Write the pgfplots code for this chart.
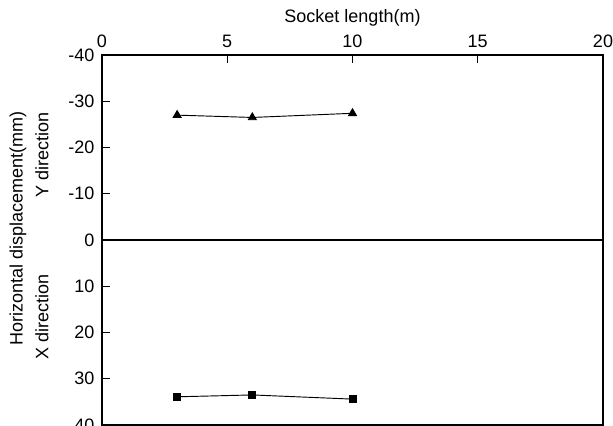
\documentclass[border=0pt]{standalone}
\usepackage{fontspec}
\setmainfont{Liberation Sans}
\usepackage{pgfplots}
\pgfplotsset{compat=1.18}
\begin{document}
\fontsize{13.5}{16}\selectfont
\begin{tikzpicture}
\begin{axis}[
  name=ax,
  scale only axis,
  width=375.75pt, height=277.5pt,
  xmin=0, xmax=20, ymin=-40, ymax=40,
  y dir=reverse,
  xtick={0,5,10,15,20},
  ytick={-40,-30,-20,-10,0,10,20,30,40},
  xtick pos=right, xticklabel pos=right,
  ytick pos=left,
  tick align=inside,
  major tick length=6pt,
  axis line style={line width=0.9pt},
  every tick/.style={line width=0.9pt, black},
  /pgf/number format/assume math mode=true,
  tick label style={font=\fontsize{13.5}{16}\selectfont},
  xticklabel style={yshift=1pt},
  yticklabel style={xshift=-1pt},
  xlabel={Socket length(m)},
  xlabel style={font=\fontsize{13.5}{16}\selectfont, yshift=-3pt},
  clip=false,
]
\addplot[black, line width=0.9pt, forget plot] coordinates {(0,0) (20,0)};
\addplot[black, line width=0.7pt, mark=triangle*, mark size=3.4pt,
  mark options={solid, fill=black}] coordinates {(3,-27.0) (6,-26.5) (10,-27.4)};
\addplot[black, line width=0.7pt, mark=square*, mark size=2.6pt,
  mark options={solid, fill=black}] coordinates {(3,33.9) (6,33.5) (10,34.4)};
\node[rotate=90, anchor=center, font=\fontsize{13.5}{16}\selectfont] at ([xshift=-63pt]axis cs:0,-2.5) {Horizontal displacement(mm)};
\node[rotate=90, anchor=center, font=\fontsize{13.5}{16}\selectfont] at ([xshift=-45pt]axis cs:0,-18.4) {Y direction};
\node[rotate=90, anchor=center, font=\fontsize{13.5}{16}\selectfont] at ([xshift=-45pt]axis cs:0,16.6) {X direction};
\end{axis}
\pgfresetboundingbox
\path[use as bounding box] ([xshift=-76.5pt]ax.south west) rectangle ++(459.75pt,318.75pt);
\end{tikzpicture}
\end{document}
